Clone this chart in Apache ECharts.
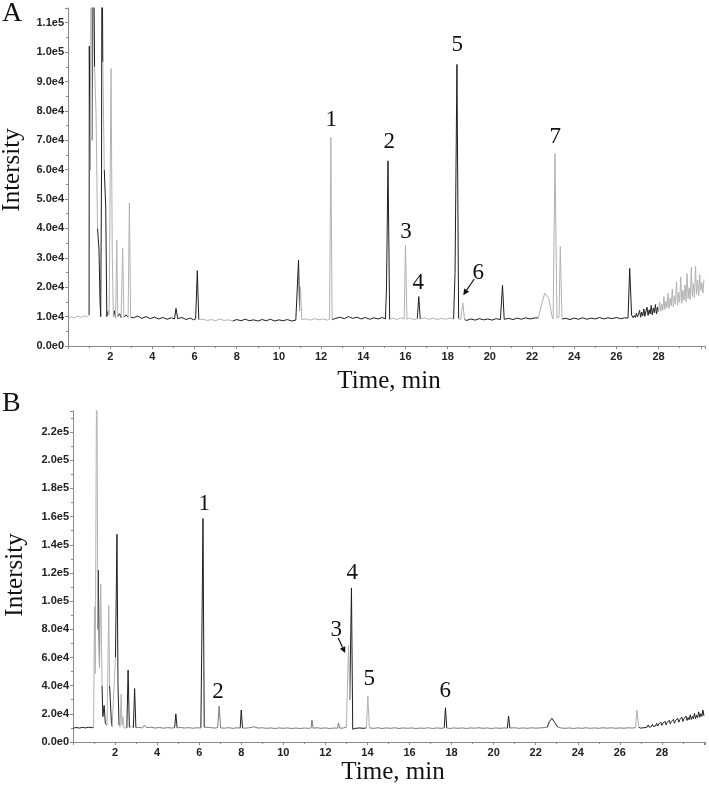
<!DOCTYPE html>
<html>
<head>
<meta charset="utf-8">
<script src="https://cdn.jsdelivr.net/npm/echarts@6/dist/echarts.min.js"></script>
<style>
html, body { margin: 0; padding: 0; background: #fff; }
#main { width: 709px; height: 785px; }
</style>
</head>
<body>
<div id="main"></div>
<script>
// trace A: [time (min), intensity]
var traceA = [
    [0.02,9300],[0.15,9900],[0.3,9600],[0.45,10200],[0.6,9700],[0.75,10300],[0.9,9900],[0.97,10400],
    [1.0,10500],[1.01,102000],[1.05,60000],[1.1,150000],[1.15,70000],[1.2,150000],[1.26,95000],[1.33,79000],
    [1.4,40000],[1.47,32700],[1.52,15000],[1.55,10000],[1.59,60000],[1.61,150000],[1.65,96700],[1.72,60000],
    [1.79,46900],[1.84,10000],[1.88,12000],[1.95,10500],[2.04,94400],[2.1,30400],[2.15,10000],[2.2,12000],
    [2.26,9500],[2.31,36000],[2.36,10000],[2.45,11000],[2.52,9600],[2.59,33300],[2.65,9800],[2.75,10600],
    [2.85,9700],[2.91,48600],[2.97,9800],
    [3.1,9600],[3.3,10200],[3.5,9400],[3.7,10000],[3.9,9300],[4.1,9800],[4.3,9200],[4.5,9700],[4.7,9100],
    [4.9,9600],[5.05,9200],[5.12,12800],[5.2,9300],[5.4,9700],[5.6,9000],[5.8,9500],[5.95,8900],[6.05,9200],
    [6.13,25600],[6.2,9000],[6.4,9100],[6.6,8700],[6.8,9000],[7.0,8600],[7.2,9200],[7.4,8700],[7.6,8900],
    [7.8,8500],[8.0,9000],[8.2,8600],[8.4,9100],[8.6,8600],[8.8,8900],[9.0,8500],[9.2,9000],[9.4,8600],
    [9.6,9100],[9.8,8500],[10.0,8900],[10.2,8600],[10.4,9000],[10.6,8500],[10.8,8800],[10.88,9000],
    [10.93,29200],[10.98,12000],[11.02,20000],[11.08,9000],[11.3,9200],[11.5,8800],[11.7,9300],[11.9,8900],
    [12.1,9200],[12.3,8800],[12.4,9100],[12.46,71000],[12.52,9000],[12.7,9400],[12.9,9800],[13.1,9300],
    [13.3,10000],[13.5,9400],[13.7,9800],[13.9,9200],[14.1,9700],[14.3,9100],[14.5,9600],[14.7,9200],
    [14.9,9700],[15.05,9200],[15.1,20000],[15.17,63000],[15.25,9000],[15.4,9500],[15.6,9000],[15.8,9600],
    [15.94,9200],[16.0,34300],[16.07,9100],[16.2,9500],[16.4,9000],[16.56,9300],[16.63,16800],[16.7,9200],
    [16.9,9600],[17.1,9100],[17.3,9500],[17.5,9000],[17.7,9400],[17.9,9100],[18.1,9500],[18.28,9200],
    [18.35,25000],[18.44,95800],[18.52,9300],[18.62,9000],[18.72,14600],[18.8,9000],[18.9,8700],[19.1,9200],
    [19.3,8800],[19.5,9300],[19.7,8900],[19.9,9200],[20.1,8800],[20.3,9300],[20.5,9000],[20.6,20700],
    [20.68,9100],[20.9,9400],[21.1,9000],[21.3,9500],[21.5,9100],[21.7,9600],[21.9,9200],[22.1,9500],
    [22.3,9600],[22.45,14000],[22.6,18000],[22.68,18500],[22.8,16000],[22.95,10000],[23.0,9200],
    [23.09,65500],[23.18,9500],[23.28,9800],[23.34,33800],[23.42,9200],[23.6,9400],[23.8,9000],[24.0,9500],
    [24.2,9100],[24.4,9600],[24.6,9100],[24.8,9500],[25.0,9200],[25.2,9700],[25.4,9200],[25.6,9600],
    [25.8,9300],[26.0,9700],[26.2,9300],[26.4,9600],[26.55,9500],[26.63,26400],[26.72,10500],[26.8,9600],
    [26.85,10400],[26.9,9700],[26.95,11200],[27.0,9900],[27.05,10800],[27.1,12100],[27.15,9800],[27.2,11500],
    [27.25,10300],[27.3,12600],[27.35,10100],[27.4,11900],[27.45,13200],[27.5,10400],[27.55,12300],[27.6,10900],
    [27.65,13800],[27.7,10600],[27.75,12900],[27.8,11300],[27.85,14100],[27.9,10900],[27.95,13200],[28.0,11600],
    [28.05,15000],[28.1,11800],[28.15,14300],[28.2,12200],[28.25,16800],[28.3,12500],[28.35,15200],[28.4,13100],
    [28.45,17900],[28.5,12800],[28.55,16200],[28.6,13600],[28.65,19400],[28.7,13300],[28.75,17100],[28.8,14200],
    [28.85,21800],[28.9,13900],[28.95,18200],[29.0,14800],[29.05,23500],[29.1,14500],[29.15,19000],[29.2,15600],
    [29.25,20800],[29.3,15100],[29.35,24600],[29.4,16200],[29.45,19800],[29.5,15800],[29.55,26800],[29.6,16900],
    [29.65,21200],[29.7,16400],[29.75,27200],[29.8,17600],[29.85,22400],[29.9,17100],[29.95,24300],[30.0,18800],
    [30.05,21500],[30.1,18000],[30.15,22600]
];

// trace B
var traceB = [
    [0.02,9800],[0.15,10300],[0.3,9900],[0.45,10400],[0.6,10000],[0.75,10500],[0.9,10100],[0.98,10500],
    [1.02,96000],[1.06,48500],[1.13,300000],[1.18,80000],[1.2,122000],[1.26,53000],[1.32,112000],[1.38,40000],
    [1.42,18000],[1.48,26000],[1.54,13000],[1.62,12000],[1.7,97000],[1.74,40000],[1.78,39000],[1.83,13000],
    [1.86,11000],[1.95,11000],[2.02,60000],[2.09,147500],[2.14,40000],[2.19,12000],[2.24,10500],[2.29,34000],
    [2.33,12000],[2.37,18000],[2.42,10000],[2.5,10500],[2.56,10000],[2.62,51000],[2.68,10200],[2.8,11000],
    [2.87,10000],[2.93,38000],[2.99,10200],
    [3.1,10400],[3.3,10000],[3.4,12000],[3.5,10200],[3.7,10500],[3.9,9900],[4.1,10300],[4.3,9800],[4.5,10200],
    [4.7,9900],[4.83,10100],[4.89,20000],[4.95,10000],[5.1,10300],[5.3,9900],[5.5,10200],[5.7,9800],[5.9,10100],
    [6.08,10000],[6.13,80000],[6.18,158700],[6.24,10500],[6.3,9900],[6.5,10300],[6.7,9900],[6.88,10200],
    [6.95,25500],[7.02,10000],[7.2,9800],[7.4,10200],[7.6,9700],[7.8,10100],[7.95,9900],[8.0,22700],[8.06,10000],
    [8.2,9800],[8.4,10200],[8.6,10800],[8.8,9900],[9.0,10100],[9.2,9700],[9.4,10000],[9.6,9600],[9.8,10000],
    [10.0,9700],[10.2,10000],[10.4,9600],[10.6,9900],[10.8,9600],[11.0,9900],[11.2,9700],[11.32,10000],
    [11.36,15600],[11.42,9800],[11.6,10100],[11.8,9700],[12.0,10000],[12.2,9600],[12.4,9900],[12.58,9800],
    [12.62,13500],[12.68,9800],[12.85,9900],[13.0,10500],[13.1,68800],[13.16,30000],[13.24,109400],[13.3,9000],
    [13.4,9600],[13.6,10000],[13.8,9700],[13.95,10000],[14.02,32600],[14.09,10000],[14.3,9700],[14.5,10100],
    [14.7,9600],[14.9,10000],[15.1,9700],[15.3,10100],[15.5,9600],[15.7,10000],[15.9,9700],[16.1,10000],
    [16.3,9600],[16.5,9900],[16.7,9700],[16.9,10100],[17.1,9600],[17.3,10000],[17.5,9700],[17.65,10000],
    [17.71,24300],[17.77,10000],[17.9,9600],[18.1,10000],[18.3,9700],[18.5,10000],[18.7,9600],[18.9,10000],
    [19.1,9800],[19.3,10100],[19.5,9700],[19.7,10000],[19.9,9600],[20.1,10000],[20.3,9700],[20.5,10000],
    [20.65,9800],[20.71,18400],[20.77,9900],[21.0,10100],[21.2,9700],[21.4,10000],[21.6,9700],[21.8,10100],
    [22.0,9800],[22.2,10000],[22.4,10200],[22.55,10500],[22.65,14500],[22.77,16800],[22.9,14000],[23.05,10500],
    [23.2,10000],[23.4,9700],[23.6,10000],[23.8,9600],[24.0,10000],[24.2,9700],[24.4,10100],[24.6,9700],
    [24.8,10000],[25.0,9700],[25.2,10100],[25.4,9800],[25.6,10100],[25.8,9700],[26.0,10000],[26.2,9800],
    [26.4,10100],[26.6,9900],[26.75,10200],[26.81,22700],[26.9,10500],
    [26.95,10300],[27.0,9800],[27.05,10900],[27.1,10100],[27.15,11400],[27.2,10200],[27.25,11000],[27.3,10600],
    [27.35,12100],[27.4,10500],[27.45,11700],[27.5,10900],[27.55,12600],[27.6,11000],[27.65,12200],[27.7,11400],
    [27.75,13300],[27.8,11300],[27.85,12800],[27.9,11900],[27.95,14000],[28.0,11800],[28.05,13400],[28.1,12300],
    [28.15,14700],[28.2,12200],[28.25,13900],[28.3,12800],[28.35,15400],[28.4,12900],[28.45,14500],[28.5,13400],
    [28.55,16100],[28.6,13300],[28.65,15200],[28.7,13900],[28.75,16900],[28.8,14000],[28.85,15800],[28.9,14500],
    [28.95,17600],[29.0,14600],[29.05,16500],[29.1,15200],[29.15,18400],[29.2,15300],[29.25,17300],[29.3,15800],
    [29.35,19300],[29.4,16000],[29.45,18100],[29.5,16500],[29.55,20300],[29.6,16700],[29.65,19000],[29.7,17300],
    [29.75,21400],[29.8,17500],[29.85,20100],[29.9,18200],[29.95,22700],[30.0,18500]
];

// trace colour pieces: [end time, shade]
var segA = [[1.0,'g'],[1.05,'d'],[1.15,'g'],[1.26,'d'],[1.4,'g'],[1.65,'d'],[1.72,'g'],[1.9,'d'],[2.15,'g'],
    [2.26,'d'],[2.36,'g'],[2.52,'d'],[2.65,'g'],[2.85,'d'],[2.97,'g'],[6.2,'d'],[7.8,'g'],[10.98,'d'],
    [12.52,'g'],[15.25,'d'],[16.56,'g'],[16.7,'d'],[18.28,'g'],[18.52,'d'],[18.8,'g'],[22.3,'d'],[23.42,'g'],
    [28.0,'d'],[31,'g']];
var segB = [[0.98,'d'],[1.18,'g'],[1.26,'d'],[1.38,'g'],[1.62,'d'],[1.74,'g'],[1.86,'d'],[2.0,'g'],[2.19,'d'],
    [2.56,'g'],[2.68,'d'],[2.87,'g'],[2.99,'d'],[4.8,'m'],[5.0,'d'],[6.1,'m'],[6.24,'d'],[7.9,'m'],[8.1,'d'],
    [13.04,'m'],[13.16,'g'],[13.95,'d'],[14.09,'g'],[17.6,'m'],[17.8,'d'],[20.6,'m'],[20.8,'d'],[22.5,'m'],
    [23.1,'d'],[26.7,'m'],[26.9,'g'],[31,'d']];

// peak numbers: [text, time, intensity]
var labelsA = [['1',12.48,76900],['2',15.23,69400],['3',16.03,38800],['4',16.6,21400],
    ['5',18.45,102400],['6',19.45,24800],['7',23.1,71100]];
var labelsB = [['1',6.24,168900],['2',6.9,35500],['3',12.52,79500],['4',13.28,119900],
    ['5',14.08,44700],['6',17.7,36200]];
// arrows: [t0, i0, t1, i1]
var arrowsA = [[19.26,22800,18.74,17300]];
var arrowsB = [[12.61,73800,12.94,63200]];

var shades = { d: '#1e1e1e', m: '#7c7c7c', g: '#b2b2b2' };

function sci(v) {
    if (v === 0) return '0.0e0';
    var e = Math.floor(Math.log10(v) + 1e-9);
    return (v / Math.pow(10, e)).toFixed(1) + 'e' + e;
}

function shadeAt(segs, t) {
    for (var i = 0; i < segs.length; i++) {
        if (t <= segs[i][0]) return segs[i][1];
    }
    return segs[segs.length - 1][1];
}

// split one trace into shade series, with gaps where another shade is drawn
function buildSeries(trace, segs, idx) {
    var out = {};
    for (var k in shades) out[k] = [];
    for (var i = 0; i < trace.length - 1; i++) {
        var mid = (trace[i][0] + trace[i + 1][0]) / 2;
        var s = shadeAt(segs, mid);
        for (var key in shades) {
            var arr = out[key];
            if (key === s) {
                if (arr[arr.length - 1] !== trace[i]) arr.push(trace[i]);
                arr.push(trace[i + 1]);
            } else if (arr.length && arr[arr.length - 1][1] !== null) {
                arr.push([mid, null]);
            }
        }
    }
    var list = [];
    for (var key2 in shades) {
        list.push({
            type: 'line',
            xAxisIndex: idx,
            yAxisIndex: idx,
            data: out[key2],
            showSymbol: false,
            symbol: 'none',
            silent: true,
            connectNulls: false,
            lineStyle: { color: shades[key2], width: 1 }
        });
    }
    return list;
}

var axisGray = '#8a8a8a';
var tickFont = { color: '#222', fontFamily: 'Liberation Sans', fontWeight: 'bold', fontSize: 11 };

function xAxisOf(idx, max) {
    return {
        type: 'value', gridIndex: idx, min: 0, max: max, interval: 2,
        axisLine: { show: true, lineStyle: { color: axisGray } },
        axisTick: { show: true, length: 3, lineStyle: { color: axisGray } },
        minorTick: { show: true, splitNumber: 2, length: 2, lineStyle: { color: axisGray } },
        splitLine: { show: false },
        axisLabel: Object.assign({ margin: 5, formatter: function (v) {
            return (v === 0 || v > 29) ? '' : String(v);
        } }, tickFont)
    };
}

function yAxisOf(idx, max, step) {
    return {
        type: 'value', gridIndex: idx, min: 0, max: max, interval: step,
        axisLine: { show: true, lineStyle: { color: axisGray } },
        axisTick: { show: true, length: 3, lineStyle: { color: axisGray } },
        minorTick: { show: true, splitNumber: 2, length: 2, lineStyle: { color: axisGray } },
        splitLine: { show: false },
        axisLabel: Object.assign({ margin: 4, showMaxLabel: false, formatter: sci }, tickFont)
    };
}

var option = {
    animation: false,
    backgroundColor: '#fff',
    grid: [
        { left: 68, right: 4, top: 8, bottom: 439 },
        { left: 73, right: 4, top: 411, bottom: 43 }
    ],
    xAxis: [xAxisOf(0, 30.2), xAxisOf(1, 30.05)],
    yAxis: [yAxisOf(0, 115000, 10000), yAxisOf(1, 235000, 20000)],
    series: buildSeries(traceA, segA, 0).concat(buildSeries(traceB, segB, 1))
};

var myChart = echarts.init(document.getElementById('main'), null, { renderer: 'canvas' });
myChart.setOption(option);

var serif = 'Liberation Serif';
var graphics = [
    { type: 'text', left: 2, top: 0, style: { text: 'A', font: '28px "' + serif + '"', fill: '#111' } },
    { type: 'text', left: 2, top: 390, style: { text: 'B', font: '28px "' + serif + '"', fill: '#111' } },
    { type: 'text', x: 12, y: 170, rotation: Math.PI / 2,
      style: { text: 'Intersity', font: '25px "' + serif + '"', fill: '#111', align: 'center', verticalAlign: 'middle' } },
    { type: 'text', x: 15, y: 575, rotation: Math.PI / 2,
      style: { text: 'Intersity', font: '25px "' + serif + '"', fill: '#111', align: 'center', verticalAlign: 'middle' } },
    { type: 'text', x: 389, y: 381,
      style: { text: 'Time, min', font: '25px "' + serif + '"', fill: '#111', align: 'center', verticalAlign: 'middle' } },
    { type: 'text', x: 393, y: 772,
      style: { text: 'Time, min', font: '25px "' + serif + '"', fill: '#111', align: 'center', verticalAlign: 'middle' } }
];

function addLabels(labels, arrows, idx) {
    labels.forEach(function (l) {
        var p = myChart.convertToPixel({ gridIndex: idx }, [l[1], l[2]]);
        graphics.push({ type: 'text', x: p[0], y: p[1],
            style: { text: l[0], font: '23px "' + serif + '"', fill: '#111', align: 'center', verticalAlign: 'middle' } });
    });
    arrows.forEach(function (a) {
        var p0 = myChart.convertToPixel({ gridIndex: idx }, [a[0], a[1]]);
        var p1 = myChart.convertToPixel({ gridIndex: idx }, [a[2], a[3]]);
        var dx = p1[0] - p0[0], dy = p1[1] - p0[1];
        var len = Math.sqrt(dx * dx + dy * dy);
        var ux = dx / len, uy = dy / len;
        var bx = p1[0] - ux * 6, by = p1[1] - uy * 6;
        graphics.push({ type: 'line', shape: { x1: p0[0], y1: p0[1], x2: bx, y2: by },
            style: { stroke: '#111', lineWidth: 1.2 } });
        graphics.push({ type: 'polygon', shape: { points: [
            [p1[0], p1[1]], [bx - uy * 3, by + ux * 3], [bx + uy * 3, by - ux * 3]] },
            style: { fill: '#111' } });
    });
}
addLabels(labelsA, arrowsA, 0);
addLabels(labelsB, arrowsB, 1);

myChart.setOption({ graphic: graphics });
</script>
</body>
</html>
